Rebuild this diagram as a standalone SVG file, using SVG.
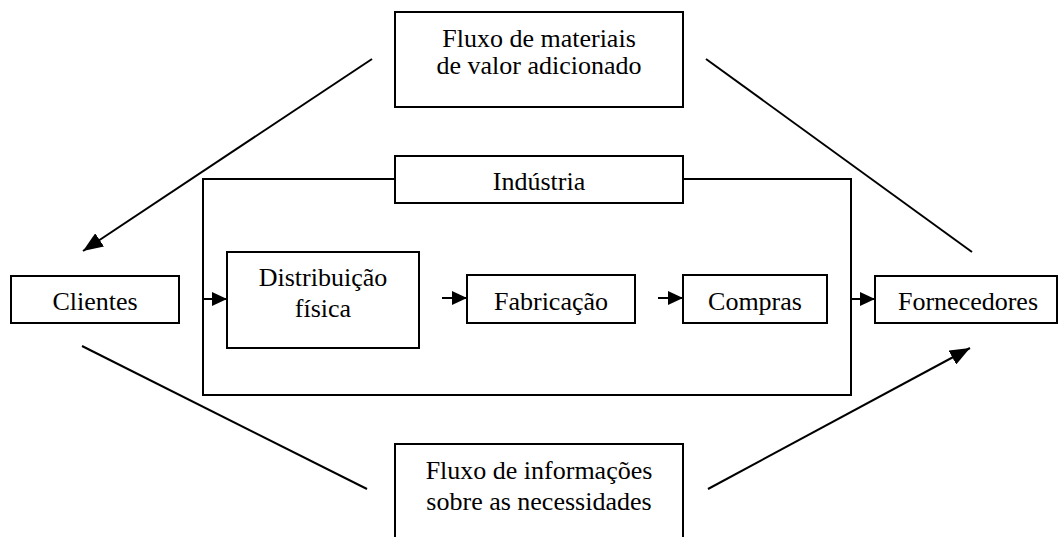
<svg xmlns="http://www.w3.org/2000/svg" width="1061" height="537" viewBox="0 0 1061 537">
<style>
.box{fill:#fff;stroke:#000;stroke-width:2}
.ln{fill:none;stroke:#000;stroke-width:2}
.t{font-family:"Liberation Serif";font-size:26px;fill:#000;text-anchor:middle}
</style>
<defs>
<marker id="big" markerWidth="22" markerHeight="16" refX="20" refY="8" orient="auto" markerUnits="userSpaceOnUse">
<path d="M0,0 L20,8 L0,16 Z" fill="#000"/>
</marker>
<marker id="small" markerWidth="16" markerHeight="14" refX="15" refY="7" orient="auto" markerUnits="userSpaceOnUse">
<path d="M0,0 L15,7 L0,14 Z" fill="#000"/>
</marker>
</defs>
<g id="industria">
<rect class="box" x="203" y="179" width="648" height="216"/>
<rect class="box" x="395" y="156" width="288" height="47"/>
<text class="t" x="539" y="190">Indústria</text>
</g>
<g id="fluxo-materiais">
<rect class="box" x="395" y="12" width="288" height="95"/>
<text class="t" x="539" y="47">Fluxo de materiais</text>
<text class="t" x="539" y="74">de valor adicionado</text>
</g>
<g id="clientes">
<rect class="box" x="11" y="276" width="168" height="47"/>
<text class="t" x="95" y="310">Clientes</text>
</g>
<g id="distribuicao">
<rect class="box" x="227" y="252" width="192" height="96"/>
<text class="t" x="323" y="286">Distribuição</text>
<text class="t" x="323" y="317">física</text>
</g>
<g id="fabricacao">
<rect class="box" x="467" y="275" width="168" height="48"/>
<text class="t" x="551" y="310">Fabricação</text>
</g>
<g id="compras">
<rect class="box" x="683" y="275" width="144" height="48"/>
<text class="t" x="755" y="310">Compras</text>
</g>
<g id="fornecedores">
<rect class="box" x="875" y="276" width="182" height="47"/>
<text class="t" x="968" y="310">Fornecedores</text>
</g>
<g id="fluxo-informacoes">
<rect class="box" x="395" y="444" width="288" height="100"/>
<text class="t" x="539" y="479">Fluxo de informações</text>
<text class="t" x="539" y="510">sobre as necessidades</text>
</g>
<g id="connectors">
<line class="ln" x1="372" y1="59" x2="83" y2="251" marker-end="url(#big)"/>
<line class="ln" x1="706" y1="59" x2="972" y2="252"/>
<line class="ln" x1="82" y1="346" x2="367" y2="489"/>
<line class="ln" x1="708" y1="489" x2="970" y2="348" marker-end="url(#big)"/>
<line class="ln" x1="203" y1="299" x2="227" y2="299" marker-end="url(#small)"/>
<line class="ln" x1="442" y1="298" x2="467" y2="298" marker-end="url(#small)"/>
<line class="ln" x1="658" y1="298" x2="683" y2="298" marker-end="url(#small)"/>
<line class="ln" x1="851" y1="299" x2="875" y2="299" marker-end="url(#small)"/>
</g>
</svg>
